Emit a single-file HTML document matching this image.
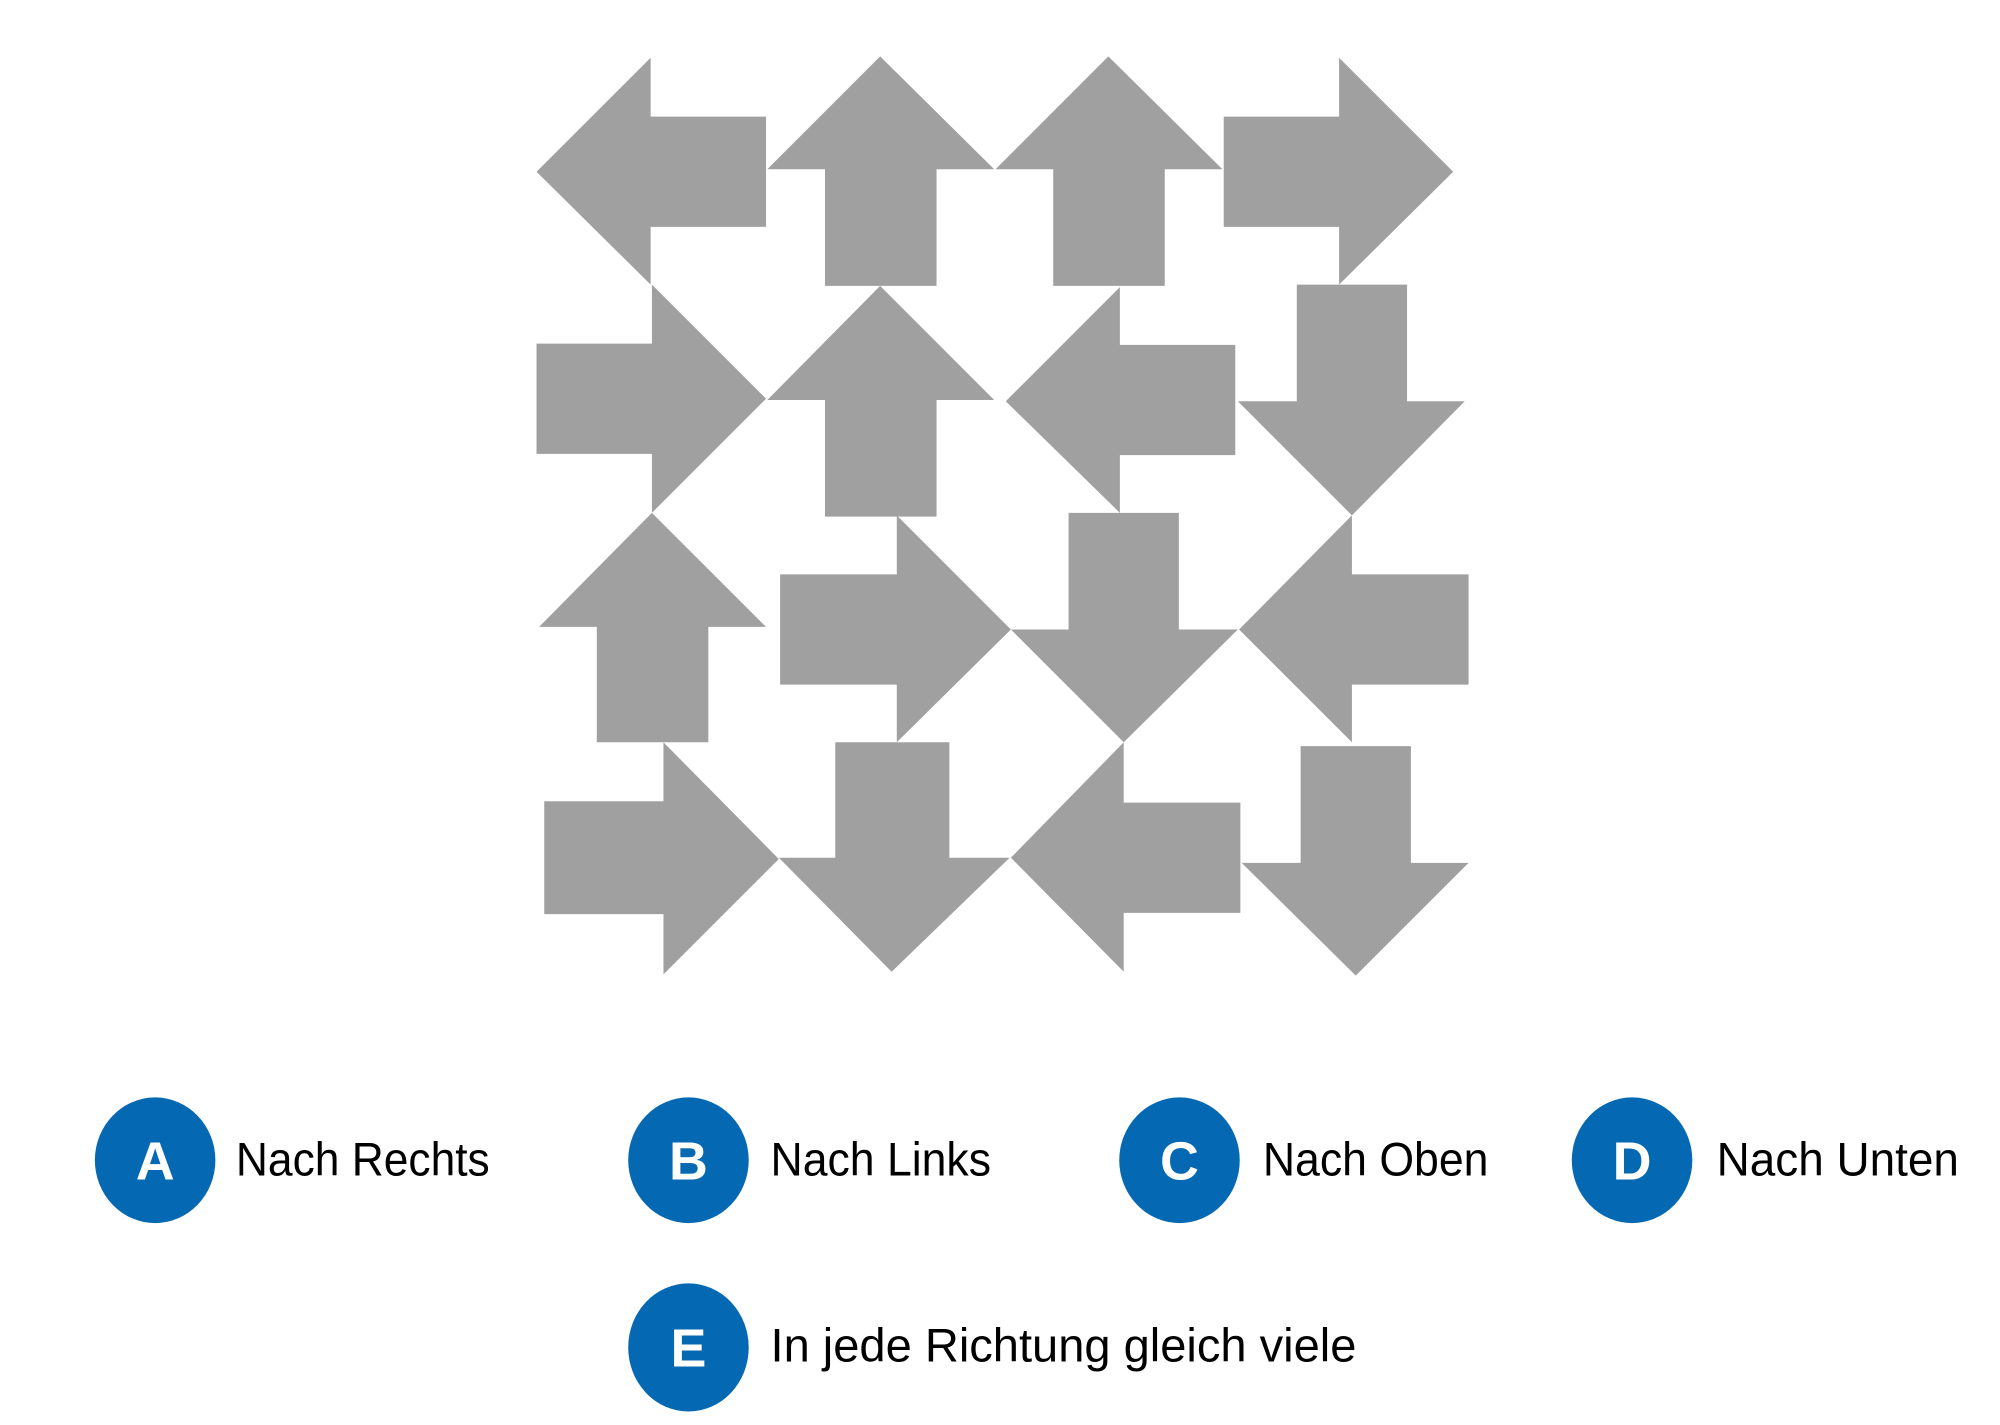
<!DOCTYPE html>
<html><head><meta charset="utf-8"><style>
html,body{margin:0;padding:0;background:#fff;width:2000px;height:1425px;overflow:hidden}
svg{display:block}
</style></head><body>
<svg width="2000" height="1425" viewBox="0 0 1560 1111.5" preserveAspectRatio="none" xmlns="http://www.w3.org/2000/svg">
<g fill="#a0a0a0" transform="translate(-1.5,0)">
<polygon points="420,134 509,45 509,91 599,91 599,177 509,177 509,222"/>
<polygon points="688,44 777,132 732,132 732,223 645,223 645,132 600,132"/>
<polygon points="866,44 955,132 910,132 910,223 823,223 823,132 778,132"/>
<polygon points="1135,134 1046,45 1046,91 956,91 956,177 1046,177 1046,222"/>
<polygon points="599,311 510,222 510,268 420,268 420,354 510,354 510,400"/>
<polygon points="688,223 777,312 732,312 732,403 645,403 645,312 600,312"/>
<polygon points="786,313 875,224 875,269 965,269 965,355 875,355 875,400"/>
<polygon points="1056,402 1144,313 1099,313 1099,222 1013,222 1013,313 967,313"/>
<polygon points="510,400 599,489 554,489 554,579 467,579 467,489 422,489"/>
<polygon points="790,491 701,402 701,448 610,448 610,534 701,534 701,579"/>
<polygon points="878,579 967,491 921,491 921,400 835,400 835,491 790,491"/>
<polygon points="968,491 1056,402 1056,448 1147,448 1147,534 1056,534 1056,579"/>
<polygon points="609,670 519,579 519,625 426,625 426,713 519,713 519,760"/>
<polygon points="697,758 789,669 742,669 742,579 653,579 653,669 609,669"/>
<polygon points="790,669 878,579 878,626 969,626 969,712 878,712 878,758"/>
<polygon points="1059,761 1147,673 1102,673 1102,582 1016,582 1016,673 970,673"/>
</g>
<g fill="#0568b3">
<ellipse cx="121" cy="905" rx="47" ry="49"/>
<ellipse cx="537" cy="905" rx="47" ry="49"/>
<ellipse cx="920" cy="905" rx="47" ry="49"/>
<ellipse cx="1273" cy="905" rx="47" ry="49"/>
<ellipse cx="537" cy="1051" rx="47" ry="50"/>
</g>
<g fill="#fff" font-family="Liberation Sans, sans-serif" font-weight="bold" font-size="42" text-anchor="middle">
<text x="121" y="920">A</text>
<text x="537" y="920">B</text>
<text x="920" y="920">C</text>
<text x="1273" y="920">D</text>
<text x="537" y="1066">E</text>
</g>
<g fill="#000" font-family="Liberation Sans, sans-serif" font-size="37">
<text x="184" y="917" textLength="198" lengthAdjust="spacingAndGlyphs">Nach Rechts</text>
<text x="601" y="917" textLength="172" lengthAdjust="spacingAndGlyphs">Nach Links</text>
<text x="985" y="917" textLength="176" lengthAdjust="spacingAndGlyphs">Nach Oben</text>
<text x="1339" y="917" textLength="189" lengthAdjust="spacingAndGlyphs">Nach Unten</text>
<text x="601" y="1062" textLength="457" lengthAdjust="spacingAndGlyphs">In jede Richtung gleich viele</text>
</g>
</svg>
</body></html>
